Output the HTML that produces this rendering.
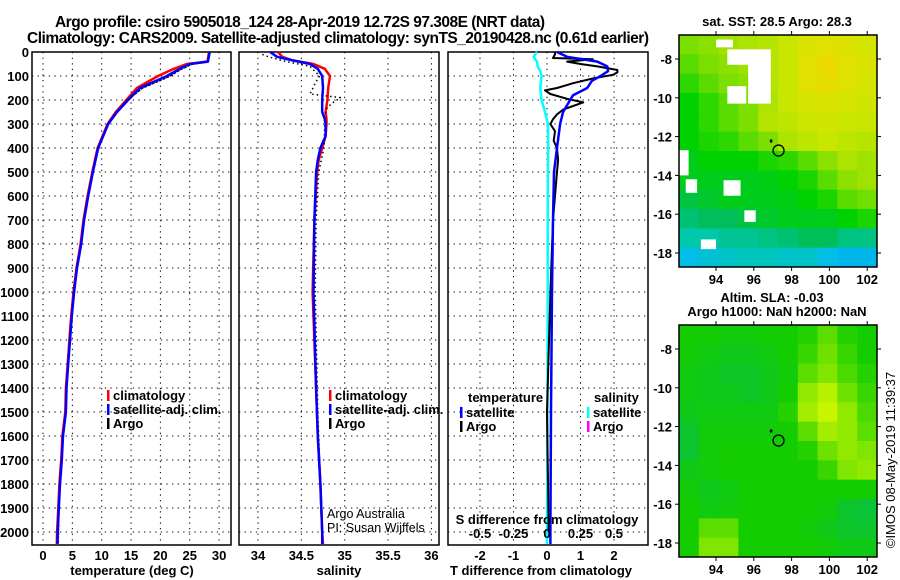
<!DOCTYPE html>
<html><head><meta charset="utf-8"><style>
html,body{margin:0;padding:0;background:#fff;}
svg{display:block;font-family:"Liberation Sans",sans-serif;}
.b{font-weight:bold;font-size:13px;}
</style></head><body>
<svg id="chart" width="900" height="580" viewBox="0 0 900 580" xmlns="http://www.w3.org/2000/svg">
<rect x="0" y="0" width="900" height="580" fill="#fff"/>
<text class="b" x="55" y="27" style="font-size:15.5px" textLength="490">Argo profile: csiro 5905018_124 28-Apr-2019 12.72S 97.308E (NRT data)</text>
<text class="b" x="27" y="43" style="font-size:15.5px" textLength="622">Climatology: CARS2009. Satellite-adjusted climatology: synTS_20190428.nc (0.61d earlier)</text>
<g id="g1"></g>
<g id="g2"></g>
<g id="g3"></g>
<g id="m1"></g>
<g id="m2"></g>
<text class="b" x="777" y="26" text-anchor="middle">sat. SST: 28.5 Argo: 28.3</text>
<text class="b" x="772" y="302" text-anchor="middle">Altim. SLA: -0.03</text>
<text class="b" x="777" y="316" text-anchor="middle">Argo h1000: NaN h2000: NaN</text>
<text x="895" y="460" font-size="13" text-anchor="middle" transform="rotate(-90 895 460)">©IMOS 08-May-2019 11:39:37</text>
</svg>
<script>
// ---------- data ----------
const depthTicks=[0,100,200,300,400,500,600,700,800,900,1000,1100,1200,1300,1400,1500,1600,1700,1800,1900,2000];
const tTicks=[0,5,10,15,20,25,30];
const sTicks=[34,34.5,35,35.5,36];
const sTickLabels=["34","34.5","35","35.5","36"];
const dTicks=[-2,-1,0,1,2];
const dsTicks=[-0.5,-0.25,0,0.25,0.5];
const dsTickLabels=["-0.5","-0.25","0","0.25","0.5"];

const depthT=[0,40,50,70,100,150,200,250,300,400,500,600,700,800,900,1000,1100,1200,1300,1400,1500,1600,1700,1800,1900,2000,2050];
const tempSat=[28.4,28.1,25,23.3,21.1,16.5,14.5,12.6,11.1,9.4,8.5,7.7,7.0,6.5,5.8,5.3,4.9,4.6,4.3,4.0,3.9,3.4,3.2,2.9,2.7,2.5,2.45];
const tempClim=[28.3,28.0,24.5,22.3,19.6,16.0,14.2,12.4,11.0,9.3,8.4,7.6,6.9,6.4,5.7,5.2,4.8,4.5,4.2,3.9,3.8,3.3,3.1,2.8,2.6,2.4,2.35];
const tempArgo=[28.3,28.0,25.3,23.5,21.5,16.8,14.3,12.5,11.0,9.3,8.4,7.6,6.9,6.4,5.7,5.2,4.8,4.5,4.2,3.9,3.8,3.3,3.1,2.8,2.6,2.5,2.45];

const depthS=[0,20,35,50,70,100,150,200,250,280,300,350,400,450,500,700,1000,1400,1600,1800,2000,2050];
const salSat=[34.14,34.22,34.40,34.60,34.69,34.74,34.75,34.74,34.74,34.77,34.78,34.78,34.72,34.69,34.67,34.65,34.64,34.67,34.69,34.72,34.74,34.74];
const salClim=[34.23,34.28,34.40,34.64,34.77,34.83,34.81,34.80,34.78,34.79,34.79,34.78,34.74,34.70,34.68,34.65,34.63,34.67,34.69,34.72,34.74,34.75];
const depthSA=[10,20,40,60,100,130,160,175,190,210,230,270,300,400,500,700,1000,1500,2000];
const salArgo=[34.05,34.12,34.33,34.6,34.71,34.66,34.62,34.6,34.95,34.87,34.8,34.76,34.77,34.76,34.7,34.67,34.66,34.69,34.74];

const depthD=[0,20,40,60,80,100,120,150,180,200,250,300,400,500,700,1000,1500,2000,2050];
const dTSat=[0.3,0.6,1.5,1.8,1.82,1.6,1.34,1.2,0.78,0.69,0.48,0.39,0.3,0.21,0.18,0.15,0.12,0.1,0.1];
const dSSat=[-0.075,-0.1,-0.075,-0.07,-0.05,-0.04,-0.045,-0.05,-0.045,-0.04,-0.015,0.007,0.01,0.007,0.006,0.005,0.003,0,0];
const depthDA=[0,10,25,30,40,50,60,75,85,95,110,130,150,160,175,195,210,225,240,260,280,300,330,370,400,450,500,600,700,1000,1500,2000];
const dTArgo=[0.24,0.24,0.18,1.37,0.6,1.0,1.5,2.1,2.1,1.97,1.38,0.78,0.3,-0.06,0.1,0.6,1.08,0.78,0.48,0.3,0.18,0.1,0.24,0.2,0.3,0.33,0.3,0.24,0.18,0.1,0.0,0.05];

const sstGrid=[
[0.60,0.62,0.65,0.68,0.70,0.75,0.82,0.85,0.83,0.80],
[0.55,0.60,0.62,0.65,0.70,0.75,0.85,0.90,0.85,0.82],
[0.50,0.55,0.60,0.62,0.70,0.75,0.85,0.88,0.84,0.80],
[0.45,0.50,0.55,0.60,0.68,0.75,0.80,0.82,0.80,0.78],
[0.45,0.50,0.55,0.60,0.70,0.72,0.76,0.78,0.76,0.75],
[0.45,0.48,0.50,0.55,0.60,0.68,0.72,0.75,0.72,0.70],
[0.42,0.45,0.45,0.45,0.48,0.50,0.55,0.62,0.68,0.65],
[0.42,0.42,0.42,0.42,0.43,0.45,0.48,0.55,0.62,0.65],
[0.38,0.40,0.42,0.42,0.42,0.43,0.45,0.48,0.55,0.58],
[0.32,0.35,0.35,0.38,0.40,0.42,0.42,0.42,0.45,0.48],
[0.25,0.25,0.28,0.28,0.30,0.32,0.35,0.35,0.30,0.30],
[0.15,0.18,0.20,0.22,0.22,0.20,0.20,0.15,0.12,0.12]];
const slaGrid=[
[.5,.48,.45,.45,.48,.5,.55,.7,.55,.5],
[.47,.42,.38,.38,.42,.5,.6,.75,.6,.5],
[.42,.38,.33,.33,.38,.45,.7,.8,.65,.55],
[.42,.38,.38,.33,.38,.5,.85,.95,.75,.6],
[.38,.42,.42,.42,.42,.55,.9,1,.85,.65],
[.3,.45,.45,.45,.45,.5,.7,.9,.85,.7],
[.28,.45,.5,.5,.5,.5,.55,.75,.85,.8],
[.4,.45,.5,.5,.5,.5,.5,.6,.8,.85],
[.45,.38,.42,.5,.5,.5,.5,.5,.5,.5],
[.5,.42,.45,.5,.5,.5,.5,.45,.3,.25],
[.5,.7,.7,.5,.5,.5,.45,.4,.3,.3],
[.5,.8,.8,.5,.5,.5,.5,.45,.4,.4]];
const lonTicks=[94,96,98,100,102];
const latTicks=[-8,-10,-12,-14,-16,-18];
const sstGaps=[[94.6,-7.5,2.3,0.8],[95.7,-8.2,1.2,2.1],[94.6,-9.4,1.0,0.9],[94.0,-7.0,0.9,0.4],[92.05,-12.7,0.5,1.3],[92.4,-14.2,0.6,0.7],[94.4,-14.25,0.9,0.8],[95.5,-15.8,0.6,0.6],[93.2,-17.3,0.8,0.5]];
const argoLon=97.31, argoLat=-12.72;

// ---------- helpers ----------
const NS="http://www.w3.org/2000/svg";
function el(tag,attrs,parent){const e=document.createElementNS(NS,tag);for(const k in attrs)e.setAttribute(k,attrs[k]);parent.appendChild(e);return e;}
const yD=d=>52+0.24*d;
const PB=545;
function panel(g,x0,x1,xs,ticks,labels,name){
  el('rect',{x:x0,y:52,width:x1-x0,height:PB-52,fill:'#fff',stroke:'#000','stroke-width':1.5},g);
  depthTicks.forEach(d=>{const l=el('line',{x1:x0,x2:x1,y1:yD(d),y2:yD(d),stroke:'#000','stroke-width':1,'stroke-dasharray':'1.3,4.3'},g);
    });
  ticks.forEach((v,i)=>{const l=el('line',{x1:xs(v),x2:xs(v),y1:52,y2:PB,stroke:'#000','stroke-width':1,'stroke-dasharray':'1.3,4.3'},g);
    
    if(labels){const t=el('text',{x:xs(v),y:560,'text-anchor':'middle',class:'b'},g);t.textContent=labels[i];
    }});
}
function line(g,xs,depths,vals,color,w,name){
  const pts=depths.map((d,i)=>xs(vals[i]).toFixed(1)+','+yD(d).toFixed(1)).join(' ');
  const p=el('polyline',{points:pts,fill:'none',stroke:color,'stroke-width':w,'stroke-linejoin':'round'},g);
  return p;}
function legend(g,x,y,color,label,name){
  const r=el('rect',{x:x,y:y-7,width:2.5,height:11,fill:color},g);
  
  const t=el('text',{x:x+6,y:y+3,class:'b'},g);t.textContent=label;
  }
function txt(g,x,y,s,name,extra){const t=el('text',Object.assign({x:x,y:y,class:'b'},extra||{}),g);t.textContent=s;
  return t;}

// ---------- panel 1 ----------
const g1=document.getElementById('g1');
const xT=v=>43+v*5.87;
panel(g1,32,231,xT,tTicks,tTicks.map(String),'temp');
depthTicks.forEach(d=>{txt(g1,29,yD(d)+5,String(d),'depth-tick-label',{'text-anchor':'end'});});
line(g1,xT,depthT,tempClim,'#f00',2.5,'temp-climatology-line');
line(g1,v=>xT(v)+0.5,depthT,tempArgo,'#000',2,'temp-argo-line').setAttribute('stroke-dasharray','3,1');
line(g1,xT,depthT,tempSat,'#00f',2.5,'temp-satellite-line');
legend(g1,107,397,'#f00','climatology','legend-climatology');
legend(g1,107,411,'#00f','satellite-adj. clim.','legend-satellite');
legend(g1,107,425,'#000','Argo','legend-argo');
txt(g1,132,575,'temperature (deg C)','x-axis-title-temperature',{'text-anchor':'middle'});

// ---------- panel 2 ----------
const g2=document.getElementById('g2');
const xS=v=>258+(v-34)*86.7;
panel(g2,239,439,xS,sTicks,sTickLabels,'sal');
line(g2,xS,depthS,salClim,'#f00',2.5,'sal-climatology-line');
line(g2,xS,depthSA,salArgo,'#000',1.5,'sal-argo-line').setAttribute('stroke-dasharray','1.5,3');
line(g2,xS,depthS,salSat,'#00f',2.5,'sal-satellite-line');
legend(g2,329,397,'#f00','climatology','legend-sal-climatology');
legend(g2,329,411,'#00f','satellite-adj. clim.','legend-sal-satellite');
legend(g2,329,425,'#000','Argo','legend-sal-argo');
const a1=txt(g2,327,518,'Argo Australia','credit-argo-australia');a1.setAttribute('class','');a1.setAttribute('font-size','12.5');
const a2=txt(g2,327,532,'PI: Susan Wijffels','credit-pi');a2.setAttribute('class','');a2.setAttribute('font-size','12.5');
txt(g2,339,575,'salinity','x-axis-title-salinity',{'text-anchor':'middle'});

// ---------- panel 3 ----------
const g3=document.getElementById('g3');
const xDT=v=>547+v*33.5;
const xDS=v=>547+v*134;
panel(g3,448,648,xDT,dTicks,dTicks.map(String),'diff');
line(g3,xDS,depthD,dSSat,'#0ff',2.5,'sal-diff-satellite-line');
line(g3,xDT,depthDA,dTArgo,'#000',2,'temp-diff-argo-line');
line(g3,xDT,depthD,dTSat,'#00f',2.5,'temp-diff-satellite-line');
txt(g3,468,402,'temperature','legend-temperature-header');
legend(g3,460,414,'#00f','satellite','legend-temp-diff-satellite');
legend(g3,460,428,'#000','Argo','legend-temp-diff-argo');
txt(g3,594,402,'salinity','legend-salinity-header');
legend(g3,587,414,'#0ff','satellite','legend-sal-diff-satellite');
legend(g3,587,428,'#f0f','Argo','legend-sal-diff-argo');
txt(g3,547,524,'S difference from climatology','s-diff-axis-title',{'text-anchor':'middle'});
dsTicks.forEach((v,i)=>txt(g3,xDS(v),538,dsTickLabels[i],'s-diff-tick-label',{'text-anchor':'middle'}));
txt(g3,541,575,'T difference from climatology','x-axis-title-t-diff',{'text-anchor':'middle'});

// ---------- maps ----------
function lerpC(stops,v){for(let i=1;i<stops.length;i++){if(v<=stops[i][0]){const a=stops[i-1],b=stops[i],f=(v-a[0])/(b[0]-a[0]);
  return 'rgb('+[1,2,3].map(k=>Math.round(a[k]+(b[k]-a[k])*f)).join(',')+')';}}const l=stops[stops.length-1];return 'rgb('+l[1]+','+l[2]+','+l[3]+')';}
const sstStops=[[0,0,150,255],[0.15,0,190,230],[0.25,0,200,170],[0.35,0,190,90],[0.45,0,210,0],[0.55,90,220,0],[0.65,160,225,0],[0.75,200,230,0],[0.85,225,225,0],[1,255,200,0]];
const slaStops=[[0,0,185,110],[0.5,20,205,0],[1,200,245,0]];
function map(id,top,grid,stops,gaps,prefix){
  const g=document.getElementById(id);
  const L=679,R=877,B=top+232;
  const xL=lon=>716+(lon-94)*18.9, yL=lat=>top+24+(-8-lat)*19.4;
  const rows=grid.length,cols=grid[0].length,cw=(R-L)/cols,ch=(B-top)/rows;
  grid.forEach((row,r)=>row.forEach((v,c)=>{const q=el('rect',{x:L+c*cw,y:top+r*ch,width:cw+0.5,height:ch+0.5,fill:lerpC(stops,v)},g);
    }));
  gaps.forEach(a=>{const q=el('rect',{x:xL(a[0]),y:yL(a[1]),width:a[2]*18.9,height:a[3]*19.4,fill:'#fff'},g);
    });
  const f=el('rect',{x:L,y:top,width:R-L,height:B-top,fill:'none',stroke:'#000','stroke-width':1.5},g);
  
  lonTicks.forEach(v=>{el('line',{x1:xL(v),x2:xL(v),y1:top,y2:top-4,stroke:'#000'},g);el('line',{x1:xL(v),x2:xL(v),y1:B,y2:B+4,stroke:'#000'},g);
    txt(g,xL(v),B+17,String(v),prefix+'-lon-tick-label',{'text-anchor':'middle'});});
  latTicks.forEach(v=>{el('line',{x1:L,x2:L-4,y1:yL(v),y2:yL(v),stroke:'#000'},g);el('line',{x1:R,x2:R+4,y1:yL(v),y2:yL(v),stroke:'#000'},g);
    txt(g,L-7,yL(v)+5,String(v),prefix+'-lat-tick-label',{'text-anchor':'end'});});
  const c=el('circle',{cx:xL(argoLon),cy:yL(argoLat),r:5.5,fill:'none',stroke:'#000','stroke-width':1.3},g);
  
  const d=el('rect',{x:xL(96.85),y:yL(-12.15),width:2.5,height:3,fill:'#000'},g);
  
}
map('m1',35,sstGrid,sstStops,sstGaps,'sst-map');
map('m2',325,slaGrid,slaStops,[],'sla-map');
</script>
</body></html>
